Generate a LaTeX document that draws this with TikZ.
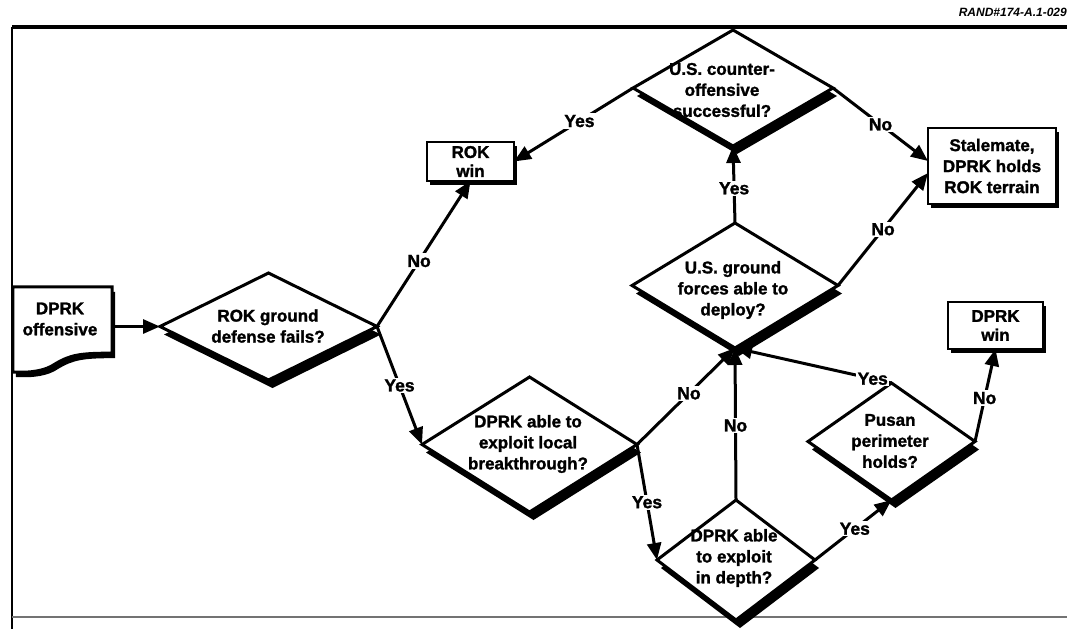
\documentclass[tikz,border=0pt]{standalone}
\usepackage{fontspec}
\setmainfont{Liberation Sans}[BoldFeatures={FakeBold=1.5}]
\usetikzlibrary{shapes.geometric,shadows,arrows.meta}
\begin{document}
\begin{tikzpicture}[x=1pt,y=-1pt,
  every node/.style={font=\bfseries\fontsize{17}{21}\selectfont, align=center},
  dec/.style={diamond, draw, line width=3pt, fill=white, inner sep=0pt, outer sep=0pt,
    drop shadow={shadow xshift=4pt,shadow yshift=-8pt,opacity=1,fill=black}},
  endbox/.style={rectangle, draw, line width=2.8pt, fill=white, inner sep=0pt, outer sep=0pt,
    drop shadow={shadow xshift=3pt,shadow yshift=-4pt,opacity=1,fill=black}},
  txt/.style={inner sep=0pt},
  arr/.style={line width=3pt, -{Triangle[length=17pt,width=14pt]}},
  lbl/.style={fill=white, inner sep=1.5pt, font=\bfseries\fontsize{17.5}{20}\selectfont}
]
\useasboundingbox (0,0) rectangle (1067,629);
% frame
\draw[line width=3.5pt] (12,27) -- (1067,27);
\draw[line width=2.5pt] (12,27) -- (12,629);
\draw[line width=1.2pt, black!55] (12,617) -- (1067,617);
\node[anchor=east, inner sep=0pt, font=\bfseries\itshape\fontsize{12}{14}\selectfont] (code) at (1067,12) {RAND\#174-A.1-029};

% start (document shape)
\node[txt, minimum width=99pt, minimum height=66pt] (start) at (62.5,320) {};
\fill ([shift={(3pt,-5pt)}]start.north west) -- ([shift={(3pt,-5pt)}]start.north east) -- ([shift={(3pt,-5pt)}]start.south east)
   .. controls (83,358) and (73,360) .. (58,369) .. controls (48,376) and (33,378) .. (16,377) -- cycle;
\draw[line width=3pt, fill=white] (start.north west) -- (start.north east) -- (start.south east)
   .. controls (80,353) and (70,355) .. (55,364) .. controls (45,371) and (30,373) .. (13,372) -- cycle;
\node[txt] at (60,319) {DPRK\\offensive};

% decisions
\node[dec, minimum width=217pt, minimum height=107pt] (dROK) at (268.5,326.5) {};
\node[txt] at (268,326) {ROK ground\\defense fails?};
\node[dec, minimum width=215pt, minimum height=135pt] (dLocal) at (529.5,444.5) {};
\node[txt] at (528,444) {DPRK able to\\exploit local\\breakthrough?};
\node[dec, minimum width=200pt, minimum height=116pt] (dCounter) at (733,88) {};
\node[txt] at (722,90) {U.S. counter-\\offensive\\successful?};
\node[dec, minimum width=206pt, minimum height=125pt] (dDeploy) at (735,285.5) {};
\node[txt] at (733,290) {U.S. ground\\forces able to\\deploy?};
\node[dec, minimum width=158pt, minimum height=120pt] (dDepth) at (736,560) {};
\node[txt] at (734,558) {DPRK able\\to exploit\\in depth?};
\node[dec, minimum width=167pt, minimum height=117pt] (dPusan) at (891.5,441.5) {};
\node[txt] at (890,441) {Pusan\\perimeter\\holds?};

% end boxes
\node[endbox, minimum width=87pt, minimum height=39pt, font=\bfseries\fontsize{17}{19}\selectfont] (rokwin) at (470.5,161.5) {ROK\\win};
\node[endbox, minimum width=128pt, minimum height=76pt] (stale) at (992,166) {Stalemate,\\DPRK holds\\ROK terrain};
\node[endbox, minimum width=95pt, minimum height=47pt, font=\bfseries\fontsize{17}{19}\selectfont] (dprkwin) at (995.5,325.5) {DPRK\\win};

% connectors
\draw[arr] (start.east |- dROK.west) -- (dROK.west);
\draw[arr] (dROK.east) -- node[lbl,pos=0.45]{No} (rokwin.south);
\draw[arr] (dROK.east) -- node[lbl,pos=0.5]{Yes} (dLocal.west);
\draw[arr] (dCounter.west) -- node[lbl,pos=0.45]{Yes} (rokwin.east);
\draw[arr] (dCounter.east) -- node[lbl,pos=0.5]{No} ([yshift=5pt]stale.west);
\draw[arr] (dDeploy.east) -- node[lbl,pos=0.5]{No} ([yshift=-7pt]stale.west);
\draw[arr] (dDeploy.north) -- node[lbl,pos=0.45]{Yes} (dCounter.south);
\draw[arr] (dLocal.east) -- node[lbl,pos=0.53]{No} (dDeploy.south);
\draw[arr] (dLocal.east) -- node[lbl,pos=0.5]{Yes} (dDepth.west);
\draw[arr] (dDepth.north) -- node[lbl,pos=0.49]{No} (dDeploy.south);
\draw[arr] (dDepth.east) -- node[lbl,pos=0.52]{Yes} (dPusan.south);
\draw[arr] (dPusan.north) -- node[lbl,pos=0.12]{Yes} (dDeploy.south);
\draw[arr] (dPusan.east) -- node[lbl,pos=0.47]{No} (dprkwin.south);
\end{tikzpicture}
\end{document}
